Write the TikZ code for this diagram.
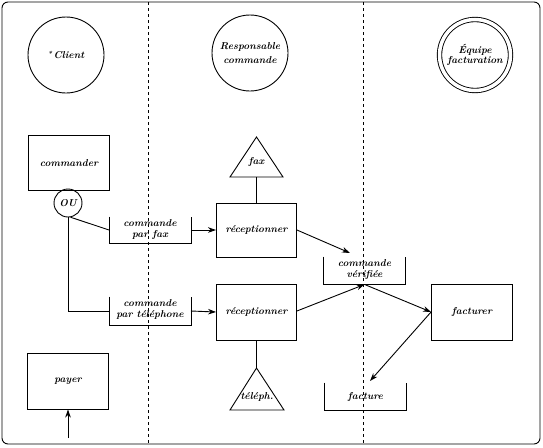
\documentclass[tikz,border=0pt]{standalone}
\usetikzlibrary{arrows.meta}
\begin{document}
\begin{tikzpicture}[x=1pt,y=-1pt,line width=0.9pt,
  every node/.style={font=\fontsize{10}{10.5}\selectfont\bfseries\itshape},
  >={Stealth[length=8pt,width=5.5pt,inset=2.5pt]},
  actor/.style={circle,draw,minimum size=76pt,inner sep=0pt,align=center},
  procbox/.style={draw,rectangle,minimum width=81pt,minimum height=55pt,inner sep=0pt},
  traybox/.style={rectangle,minimum width=81pt,inner sep=0pt},
  traytext/.style={anchor=north,align=center,inner sep=0pt,yshift=-3pt},
  lane/.style={dashed,line width=0.7pt}]
\useasboundingbox (0,0) rectangle (543,447);

% frame and swimlanes
\draw[rounded corners=6pt] (2,2) rectangle (540,444);
\coordinate (l1t) at (148,2);  \coordinate (l1b) at (148,444);
\coordinate (l2t) at (363,2);  \coordinate (l2b) at (363,444);
\draw[lane] (l1t) -- (l1b);
\draw[lane] (l2t) -- (l2b);

% actors
\node[actor] (client) at (66,55) {\raisebox{2pt}{\scriptsize *}\,Client};
\node[actor] (resp) at (250,53) {Responsable\\[3pt]commande};
\node[actor,minimum size=71pt,double,double distance=3.5pt] (equipe) at (475,55) {\'Equipe\\facturation};

% activities
\node[procbox] (commander) at (69,163) {commander};
\node[circle,draw,minimum size=28pt,inner sep=0pt] (ou) at (68,203) {OU};
\node[procbox,minimum width=80pt,minimum height=54pt] (rec1) at (256.5,230) {r\'eceptionner};
\node[procbox,minimum width=80pt,minimum height=56pt] (rec2) at (256.5,312) {r\'eceptionner};
\node[procbox,minimum height=56pt] (facturer) at (472,312) {facturer};
\node[procbox,minimum height=56pt] (payer) at (68,381) {payer};

% object trays (open at the top)
\node[traybox,minimum height=26pt] (cfax) at (150,230) {};
\node[traybox,minimum height=28pt] (ctel) at (150,311) {};
\node[traybox,minimum height=27pt] (cver) at (364.5,270.5) {};
\node[traybox,minimum height=27pt] (fact) at (365.5,396.5) {};
\foreach \t in {cfax,ctel,cver,fact}
  \draw (\t.north west) -- (\t.south west) -- (\t.south east) -- (\t.north east);
\node[traytext] (cfaxt) at (cfax.north) {commande\\par fax};
\node[traytext] (ctelt) at (ctel.north) {commande\\par t\'el\'ephone};
\node[traytext] (cvert) at (cver.north) {commande\\v\'erifi\'ee};
\node[traytext,yshift=-6pt] (factt) at (fact.north) {facture};

% resources
\coordinate (faxA) at (256.5,137); \coordinate (faxL) at (230,177); \coordinate (faxR) at (283,177);
\coordinate (faxB) at (256.5,177);
\draw (faxA) -- (faxL) -- (faxR) -- cycle;
\node (faxt) at (256.5,162) {fax};
\coordinate (telA) at (256.5,368); \coordinate (telL) at (230,410); \coordinate (telR) at (284,410);
\draw (telA) -- (telL) -- (telR) -- cycle;
\node (telt) at (257,397) {t\'el\'eph.};
\draw (faxB) -- (rec1.north);
\draw (rec2.south) -- (telA);

% flows
\draw (ou.-80) -- (cfax.west);
\draw (ou.south) |- (ctel.west);
\draw[->] (cfax.east) -- (rec1.west);
\draw[->] (ctel.east) -- (rec2.west);
\coordinate (cverin) at (350,253);
\draw[->] (rec1.east) -- (cverin);
\draw[->] ([yshift=1pt]rec2.east) -- (cver.south);
\draw[->] (cver.south) -- (facturer.west);
\coordinate (factin) at (370,381);
\draw[->] (facturer.west) -- (factin);
\coordinate (payin) at (68,438);
\draw[->] (payin) -- (payer.south);
\end{tikzpicture}
\end{document}
